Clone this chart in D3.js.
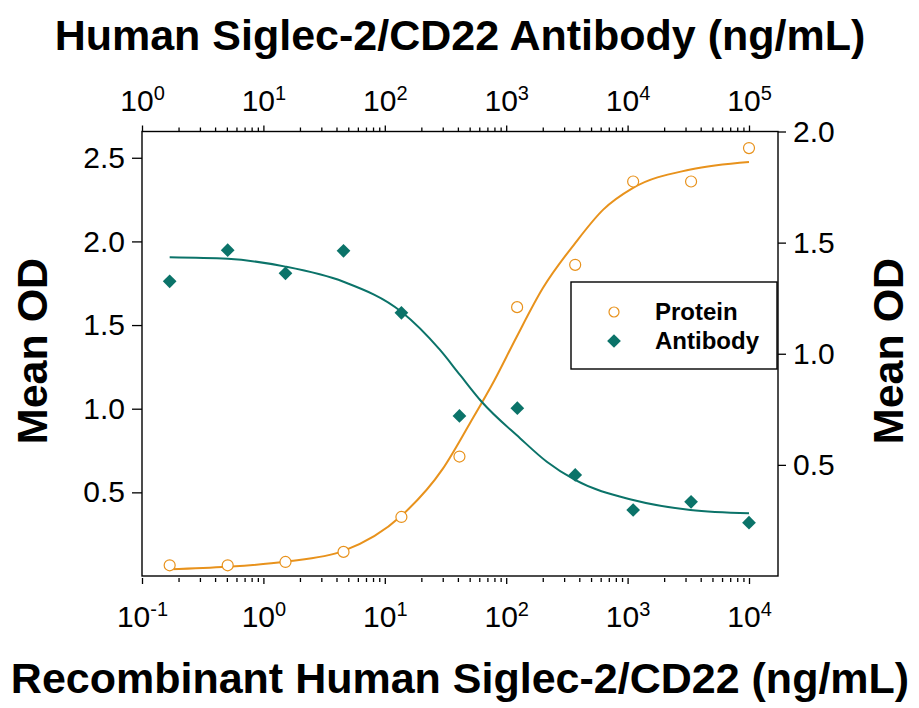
<!DOCTYPE html>
<html>
<head>
<meta charset="utf-8">
<script src="https://cdn.jsdelivr.net/npm/d3@7"></script>
<style>
  body { margin: 0; background: #fff; }
  svg { display: block; font-family: "Liberation Sans", Arial, sans-serif; }
</style>
</head>
<body>
<svg id="chart" width="919" height="708"></svg>
<script>
// measured points (3-fold dilutions)
var proteinConc = [0.169, 0.508, 1.52, 4.57, 13.7, 41.2, 123, 370, 1111, 3333, 10000];
var proteinOD   = [0.064, 0.064, 0.084, 0.144, 0.353, 0.714, 1.607, 1.860, 2.358, 2.358, 2.558];
var antibodyConc = [1.69, 5.08, 15.2, 45.7, 137, 412, 1235, 3704, 11111, 33333, 100000];
var antibodyOD   = [1.326, 1.466, 1.362, 1.463, 1.184, 0.720, 0.755, 0.455, 0.297, 0.334, 0.240];

// fitted curves
var proteinFitConc = [0.169, 0.5, 1.5, 4.57, 13.7, 30, 50, 80, 120, 200, 370, 630, 1110, 3300, 10000];
var proteinFitOD   = [0.04, 0.055, 0.085, 0.15, 0.36, 0.64, 0.91, 1.17, 1.42, 1.72, 1.99, 2.19, 2.32, 2.43, 2.475];
var antibodyFitConc = [1.69, 5.08, 15.2, 45.7, 137, 285, 416, 628, 1300, 2160, 3690, 11100, 33000, 100000];
var antibodyFitOD   = [1.434, 1.427, 1.392, 1.324, 1.189, 1.017, 0.905, 0.784, 0.620, 0.514, 0.432, 0.342, 0.297, 0.282];

var bottomTicks = [0.1, 1, 10, 100, 1000, 10000];
var topTicks = [1, 10, 100, 1000, 10000, 100000];
var leftTicks = [0.5, 1.0, 1.5, 2.0, 2.5];
var rightTicks = [0.5, 1.0, 1.5, 2.0];

var orange = "#E8921C", teal = "#0B7369";

var svg = d3.select("#chart");
var L = 142, R = 778, T = 131.5, B = 576;

var xB = d3.scaleLog().domain([0.1, 10000]).range([L, 749]);
var xT = d3.scaleLog().domain([1, 100000]).range([L, 749]);
var yL = d3.scaleLinear().domain([0, 2.657]).range([B, T]);
var yR = d3.scaleLinear().domain([0, 2]).range([B, T]);

function minors(lo, hi) {
  var out = [];
  for (var e = lo; e < hi; e++)
    for (var k = 2; k <= 9; k++) out.push(k * Math.pow(10, e));
  return out;
}

function supLabels(g) {
  g.selectAll(".tick text").each(function(d) {
    var t = d3.select(this);
    var ex = Math.round(Math.log10(d));
    t.text("");
    t.append("tspan").text("10");
    t.append("tspan").attr("dy", "-0.55em").attr("font-size", "20px").text(ex);
  });
}

// bottom axis
var gb = svg.append("g").attr("transform", "translate(0," + (B + 2) + ")");
gb.append("g").call(d3.axisBottom(xB).tickValues(minors(-1, 4)).tickSize(4).tickFormat(""))
  .selectAll("text").remove();
var gbMaj = gb.append("g").call(d3.axisBottom(xB).tickValues(bottomTicks).tickSize(6));
gb.selectAll(".domain").remove();
gbMaj.selectAll("text").attr("y", 49).attr("dy", 0).attr("font-size", "30px").attr("fill", "#000");
supLabels(gbMaj);

// top axis
var gt = svg.append("g").attr("transform", "translate(0," + T + ")");
gt.append("g").call(d3.axisTop(xT).tickValues(minors(0, 5)).tickSize(4).tickFormat(""))
  .selectAll("text").remove();
var gtMaj = gt.append("g").call(d3.axisTop(xT).tickValues(topTicks).tickSize(6));
gt.selectAll(".domain").remove();
gtMaj.selectAll("text").attr("y", -21).attr("dy", 0).attr("font-size", "30px").attr("fill", "#000");
supLabels(gtMaj);

// left axis
var gl = svg.append("g").attr("transform", "translate(" + L + ",0)")
  .call(d3.axisLeft(yL).tickValues(leftTicks).tickSize(10).tickPadding(7).tickFormat(d3.format(".1f")));
gl.selectAll(".domain").remove();
gl.selectAll("text").attr("font-size", "30px").attr("fill", "#000");

// right axis
var gr = svg.append("g").attr("transform", "translate(" + R + ",0)")
  .call(d3.axisRight(yR).tickValues(rightTicks).tickSize(8).tickPadding(7).tickFormat(d3.format(".1f")));
gr.selectAll(".domain").remove();
gr.selectAll("text").attr("font-size", "30px").attr("fill", "#000");

svg.selectAll(".tick line").attr("stroke", "#000").attr("stroke-width", 1.3);

// frame
svg.append("rect").attr("x", L).attr("y", T).attr("width", R - L).attr("height", B - T)
  .attr("fill", "none").attr("stroke", "#000").attr("stroke-width", 1.4);

// curves
var lineP = d3.line().curve(d3.curveMonotoneX)
  .x(function(d, i) { return xB(proteinFitConc[i]); })
  .y(function(d) { return yL(d); });
var lineA = d3.line().curve(d3.curveMonotoneX)
  .x(function(d, i) { return xT(antibodyFitConc[i]); })
  .y(function(d) { return yR(d); });

svg.append("path").attr("d", lineP(proteinFitOD))
  .attr("fill", "none").attr("stroke", orange).attr("stroke-width", 2);
svg.append("path").attr("d", lineA(antibodyFitOD))
  .attr("fill", "none").attr("stroke", teal).attr("stroke-width", 2);

// points
svg.append("g").selectAll("circle")
  .data(proteinOD)
  .enter()
  .append("circle")
  .attr("cx", function(d, i) { return xB(proteinConc[i]); })
  .attr("cy", function(d) { return yL(d); })
  .attr("r", 5.5)
  .attr("fill", "#fff")
  .attr("stroke", orange)
  .attr("stroke-width", 1.2);

var diamond = d3.symbol().type(d3.symbolDiamond2).size(120);
svg.append("g").selectAll("path")
  .data(antibodyOD)
  .enter()
  .append("path")
  .attr("d", diamond)
  .attr("transform", function(d, i) { return "translate(" + xT(antibodyConc[i]) + "," + yR(d) + ")"; })
  .attr("fill", teal);

// legend
var lg = svg.append("g");
lg.append("rect").attr("x", 571).attr("y", 282).attr("width", 206).attr("height", 87)
  .attr("fill", "#fff").attr("stroke", "#000").attr("stroke-width", 1.4);
lg.append("circle").attr("cx", 614).attr("cy", 312).attr("r", 5)
  .attr("fill", "#fff").attr("stroke", orange).attr("stroke-width", 1.2);
lg.append("path").attr("d", diamond).attr("transform", "translate(614,341)").attr("fill", teal);
lg.append("text").attr("x", 655).attr("y", 320).attr("font-size", "24px").attr("font-weight", "bold").text("Protein");
lg.append("text").attr("x", 655).attr("y", 349).attr("font-size", "24px").attr("font-weight", "bold").text("Antibody");

// titles
svg.append("text").attr("x", 460).attr("y", 50).attr("text-anchor", "middle")
  .attr("font-size", "43px").attr("font-weight", "bold").text("Human Siglec-2/CD22 Antibody (ng/mL)");
svg.append("text").attr("x", 460).attr("y", 693).attr("text-anchor", "middle")
  .attr("font-size", "43px").attr("font-weight", "bold").text("Recombinant Human Siglec-2/CD22 (ng/mL)");
svg.append("text").attr("transform", "translate(47,351) rotate(-90)").attr("text-anchor", "middle")
  .attr("font-size", "43px").attr("font-weight", "bold").text("Mean OD");
svg.append("text").attr("transform", "translate(903,351) rotate(-90)").attr("text-anchor", "middle")
  .attr("font-size", "43px").attr("font-weight", "bold").text("Mean OD");
</script>
</body>
</html>
